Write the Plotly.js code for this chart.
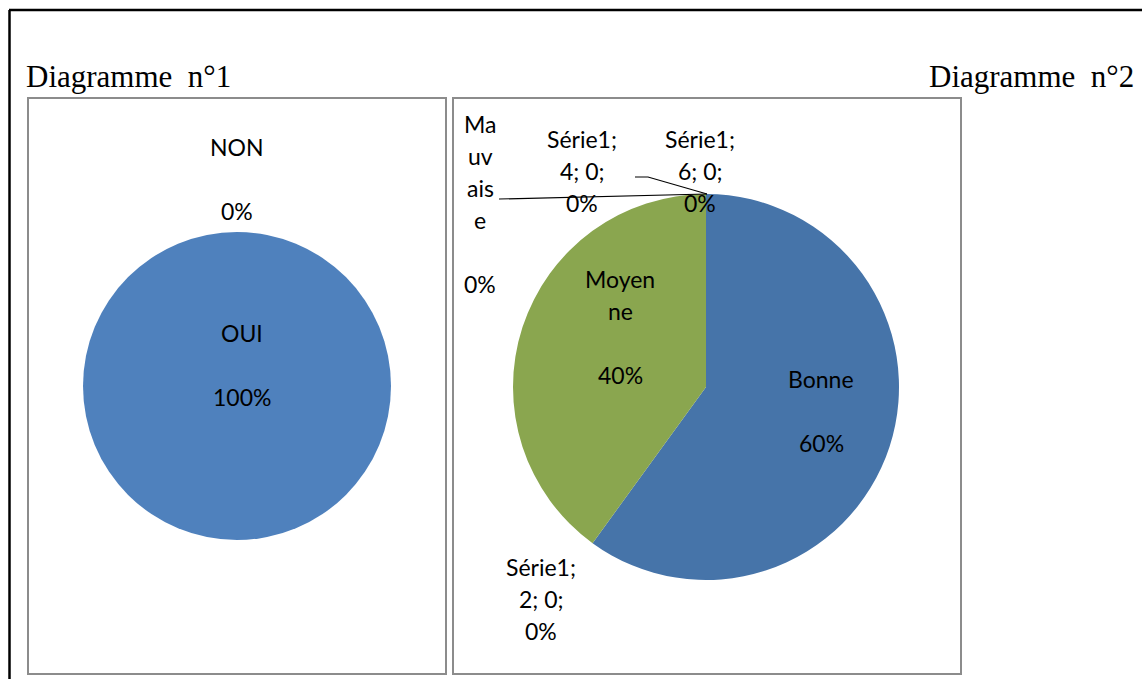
<!DOCTYPE html>
<html>
<head>
<meta charset="utf-8">
<script src="https://cdn.plot.ly/plotly-3.0.1.min.js"></script>
<style>html,body{margin:0;padding:0;background:#fff;overflow:hidden}#chart{width:1142px;height:679px}</style>
</head>
<body>
<div id="chart"></div>
<script>
// ---- Data ----
const titles = ["Diagramme\u00a0\u00a0n\u00b01", "Diagramme\u00a0\u00a0n\u00b02"];
const seriesName = "Série1";

const pie1Categories = ["OUI", "NON"];
const pie1Values = [100, 0];
const pie1Display = ["OUI", "NON"];

const pie2Categories = ["Bonne", "2", "Moyenne", "4", "Mauvaise", "6"];
const pie2Values = [60, 0, 40, 0, 0, 0];
const pie2Display = ["Bonne", null, "Moyen\nne", null, "Ma\nuv\nais\ne", null];

const pie1Colors = ["#4F81BD", "#C0504D"];
const pie2Colors = ["#4674A9", "#C0504D", "#8AA64F", "#8064A2", "#4BACC6", "#F79646"];

// ---- Layout helpers (pixel -> paper) ----
const W = 1142, H = 679;
const px = x => x / W;
const py = y => 1 - y / H;

// label anchor positions (center x, first baseline y), layout only
const pie1LabelPos = [[242, 342], [237, 156]];
const pie2LabelPos = [[821, 388], [541, 576], [620, 288], [582, 148], [480, 133], [700, 148]];
const LINE = 32, FONT = 23;

const labelFont = {family: "Lato, 'Open Sans', sans-serif", size: FONT, color: "#000"};
const annotations = [];

function addLines(lines, cx, base) {
  lines.forEach((t, i) => {
    if (!t) return;
    annotations.push({
      xref: "paper", yref: "paper", x: px(cx), y: py(base + i * LINE - 9),
      text: t, showarrow: false, xanchor: "center", yanchor: "middle", font: labelFont
    });
  });
}

function pct(vals, i) {
  const tot = vals.reduce((a, b) => a + b, 0);
  return Math.round(vals[i] / tot * 100) + "%";
}

pie1Categories.forEach((c, i) => {
  const lines = pie1Display[i].split("\n").concat(["", pct(pie1Values, i)]);
  addLines(lines, pie1LabelPos[i][0], pie1LabelPos[i][1]);
});

pie2Categories.forEach((c, i) => {
  let lines;
  if (pie2Display[i]) {
    lines = pie2Display[i].split("\n").concat(["", pct(pie2Values, i)]);
  } else {
    lines = [seriesName + ";", c + "; " + pie2Values[i] + ";", pct(pie2Values, i)];
  }
  addLines(lines, pie2LabelPos[i][0], pie2LabelPos[i][1]);
});

// titles
const titleFont = {family: "'Liberation Serif', 'Times New Roman', serif", size: 31, color: "#000"};
annotations.push({xref: "paper", yref: "paper", x: px(24), y: py(86 - 10), text: titles[0], showarrow: false,
  xanchor: "left", yanchor: "middle", font: titleFont});
annotations.push({xref: "paper", yref: "paper", x: px(1136), y: py(86 - 10), text: titles[1], showarrow: false,
  xanchor: "right", yanchor: "middle", font: titleFont});

const shapes = [
  // outer document frame
  {type: "line", xref: "paper", yref: "paper", x0: px(9), y0: py(10), x1: px(1142), y1: py(10), line: {color: "#000", width: 2.5}},
  {type: "line", xref: "paper", yref: "paper", x0: px(9.5), y0: py(10), x1: px(9.5), y1: py(679), line: {color: "#000", width: 2.5}},
  // chart panels
  {type: "rect", xref: "paper", yref: "paper", x0: px(28), y0: py(98), x1: px(446), y1: py(674), line: {color: "#8C8C8C", width: 2}},
  {type: "rect", xref: "paper", yref: "paper", x0: px(453), y0: py(98), x1: px(961), y1: py(674), line: {color: "#8C8C8C", width: 2}},
  // leader lines
  {type: "path", xref: "paper", yref: "paper", path: `M ${px(499)},${py(199)} L ${px(707)},${py(194)}`, line: {color: "#000", width: 1.2}},
  {type: "path", xref: "paper", yref: "paper", path: `M ${px(635)},${py(177)} L ${px(648)},${py(177)} L ${px(707)},${py(194)}`, line: {color: "#000", width: 1.2}}
];

const data = [
  {
    type: "pie", labels: pie1Categories, values: pie1Values, sort: false, direction: "clockwise", rotation: 0,
    domain: {x: [px(83), px(391)], y: [py(540), py(232)]},
    textinfo: "none", marker: {colors: pie1Colors, line: {width: 0}}, showlegend: false, hoverinfo: "label+value+percent"
  },
  {
    type: "pie", labels: pie2Categories, values: pie2Values, sort: false, direction: "clockwise", rotation: 0,
    domain: {x: [px(513), px(899)], y: [py(580), py(194)]},
    textinfo: "none", marker: {colors: pie2Colors, line: {width: 0}}, showlegend: false, hoverinfo: "label+value+percent"
  }
];

const layout = {
  width: W, height: H, margin: {l: 0, r: 0, t: 0, b: 0},
  paper_bgcolor: "#fff", plot_bgcolor: "#fff", showlegend: false,
  annotations: annotations, shapes: shapes
};

Plotly.newPlot("chart", data, layout, {displayModeBar: false, responsive: false});
</script>
</body>
</html>
